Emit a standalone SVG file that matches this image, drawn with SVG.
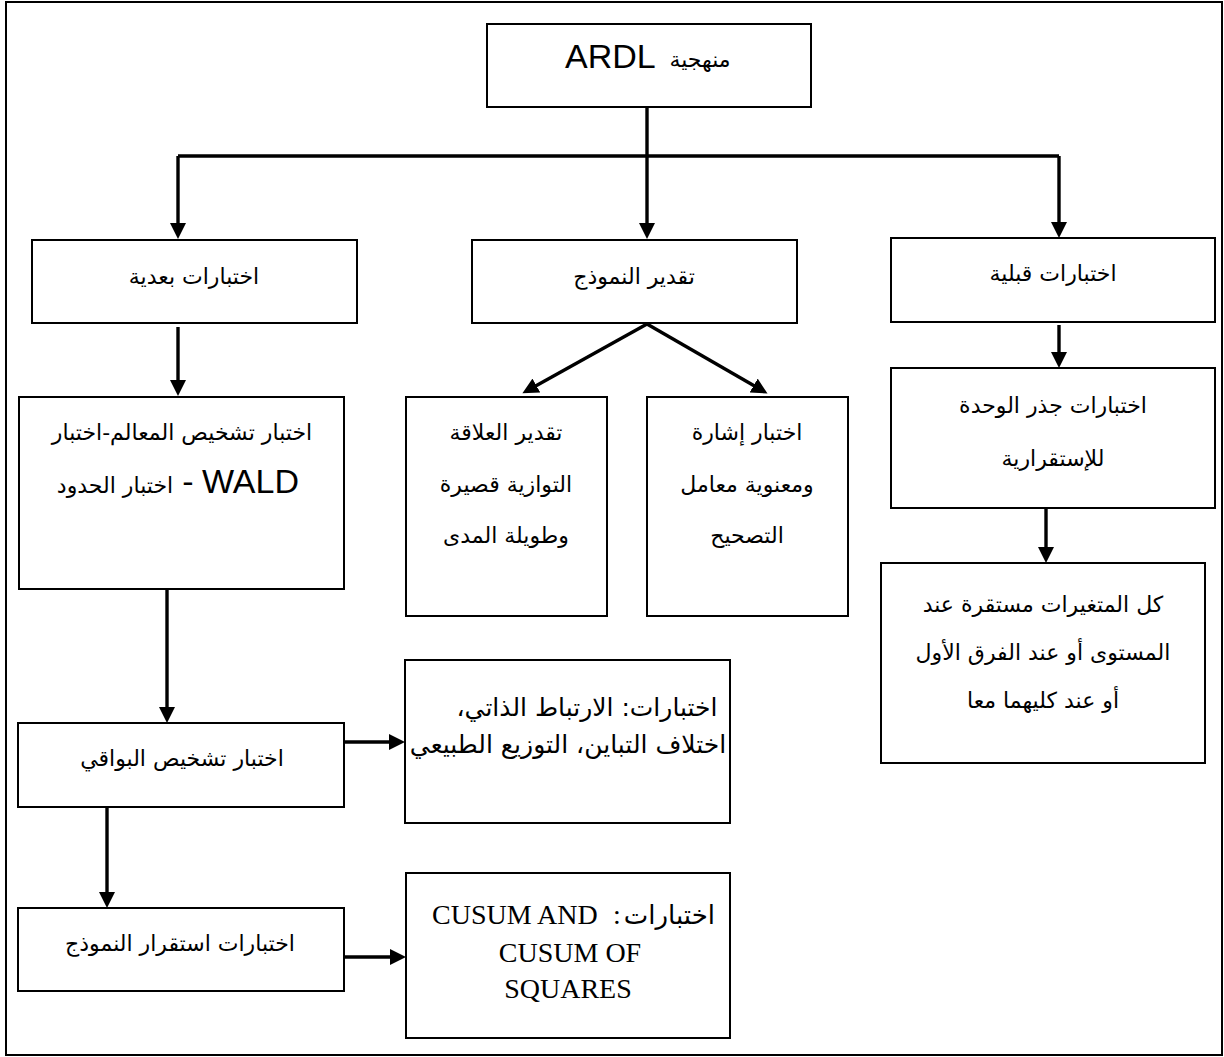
<svg xmlns="http://www.w3.org/2000/svg" width="1224" height="1057" viewBox="0 0 1224 1057">
<style>
.box{fill:#fff;stroke:#000;stroke-width:2}
.frame{fill:#fff;stroke:#000;stroke-width:2}
.con{fill:none;stroke:#000;stroke-width:3.4}
.ar{font-family:"DejaVu Sans",sans-serif;font-size:22px;fill:#000;text-anchor:middle;direction:rtl}
.ls{font-family:"Liberation Sans",Arial,sans-serif;font-size:34px;fill:#000}
.tm{font-family:"Liberation Serif","Times New Roman",serif;font-size:28px;fill:#000}
</style>
<defs>
<marker id="ah" viewBox="0 0 16 16" refX="5" refY="8" markerWidth="16" markerHeight="16" markerUnits="userSpaceOnUse" orient="auto">
<path d="M0,0 L16,8 L0,16 z" fill="#000"/>
</marker>
</defs>
<rect class="frame" x="6" y="2" width="1216" height="1053"/>
<g id="connectors">
<path class="con" d="M647,107 V156 M178,156 H1059"/>
<path class="con" marker-end="url(#ah)" d="M178,156 V228"/>
<path class="con" marker-end="url(#ah)" d="M647,156 V228"/>
<path class="con" marker-end="url(#ah)" d="M1059,156 V227"/>
<path class="con" marker-end="url(#ah)" d="M178,327 V385"/>
<path class="con" marker-end="url(#ah)" d="M647,324 L532,388"/>
<path class="con" marker-end="url(#ah)" d="M647,324 L758,388"/>
<path class="con" marker-end="url(#ah)" d="M1059,325 V357"/>
<path class="con" marker-end="url(#ah)" d="M1046,508 V552"/>
<path class="con" marker-end="url(#ah)" d="M167,589 V712"/>
<path class="con" marker-end="url(#ah)" d="M344,742 H394"/>
<path class="con" marker-end="url(#ah)" d="M107,807 V897"/>
<path class="con" marker-end="url(#ah)" d="M344,957 H395"/>
</g>
<g id="n-ardl">
<rect class="box" x="487" y="24" width="324" height="83"/>
<text class="ls" x="565" y="68">ARDL</text>
<text class="ar" x="700" y="67">منهجية</text>
</g>
<g id="n-post">
<rect class="box" x="32" y="240" width="325" height="83"/>
<text class="ar" x="194" y="284">اختبارات بعدية</text>
</g>
<g id="n-estimate">
<rect class="box" x="472" y="240" width="325" height="83"/>
<text class="ar" x="634" y="284">تقدير النموذج</text>
</g>
<g id="n-pre">
<rect class="box" x="891" y="238" width="324" height="84"/>
<text class="ar" x="1053" y="281">اختبارات قبلية</text>
</g>
<g id="n-wald">
<rect class="box" x="19" y="397" width="325" height="192"/>
<text class="ar" x="182" y="440">اختبار تشخيص المعالم-اختبار</text>
<text class="ar" x="115" y="493">اختبار الحدود</text>
<text class="ls" x="188" y="493" text-anchor="middle">-</text>
<text class="ls" x="202" y="493">WALD</text>
</g>
<g id="n-longrun">
<rect class="box" x="406" y="397" width="201" height="219"/>
<text class="ar" x="506" y="440">تقدير العلاقة</text>
<text class="ar" x="506" y="492">التوازية قصيرة</text>
<text class="ar" x="506" y="543">وطويلة المدى</text>
</g>
<g id="n-ecm">
<rect class="box" x="647" y="397" width="201" height="219"/>
<text class="ar" x="747" y="440">اختبار إشارة</text>
<text class="ar" x="747" y="492">ومعنوية معامل</text>
<text class="ar" x="747" y="543">التصحيح</text>
</g>
<g id="n-unitroot">
<rect class="box" x="891" y="368" width="324" height="140"/>
<text class="ar" x="1053" y="413">اختبارات جذر الوحدة</text>
<text class="ar" x="1053" y="466">للإستقرارية</text>
</g>
<g id="n-stationary">
<rect class="box" x="881" y="563" width="324" height="200"/>
<text class="ar" x="1043" y="612">كل المتغيرات مستقرة عند</text>
<text class="ar" x="1043" y="660">المستوى أو عند الفرق الأول</text>
<text class="ar" x="1043" y="708">أو عند كليهما معا</text>
</g>
<g id="n-residual">
<rect class="box" x="18" y="723" width="326" height="84"/>
<text class="ar" x="182" y="766">اختبار تشخيص البواقي</text>
</g>
<g id="n-resid-tests">
<rect class="box" x="405" y="660" width="325" height="163"/>
<text class="ar" x="587" y="716" style="font-size:25px">اختبارات: الارتباط الذاتي،</text>
<text class="ar" x="568" y="753" style="font-size:25px">اختلاف التباين، التوزيع الطبيعي</text>
</g>
<g id="n-stability">
<rect class="box" x="18" y="908" width="326" height="83"/>
<text class="ar" x="180" y="951">اختبارات استقرار النموذج</text>
</g>
<g id="n-cusum">
<rect class="box" x="406" y="873" width="324" height="165"/>
<text class="ar" x="715" y="924" style="text-anchor:start;font-size:26px">اختبارات</text>
<text class="tm" x="613" y="924">:</text>
<text class="tm" x="432" y="924">CUSUM AND</text>
<text class="tm" x="570" y="962" text-anchor="middle">CUSUM OF</text>
<text class="tm" x="568" y="998" text-anchor="middle">SQUARES</text>
</g>
</svg>
